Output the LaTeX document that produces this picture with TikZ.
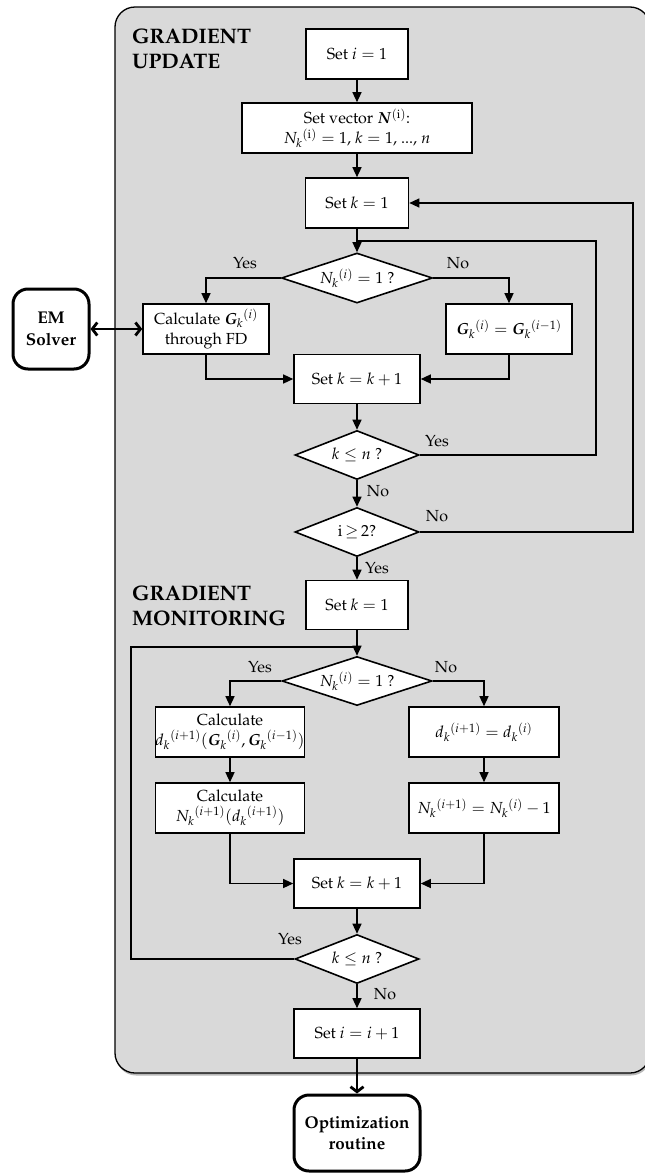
\documentclass[tikz,border=0pt]{standalone}
\usepackage[T1]{fontenc}
\usepackage{mathpazo}
\usepackage{bm}
\usetikzlibrary{shapes.geometric,arrows.meta}
\definecolor{panel}{RGB}{217,217,217}
\begin{document}
\begin{tikzpicture}[x=1pt,y=-1pt,
  font=\fontsize{16}{20}\selectfont,
  box/.style={draw, line width=1.6pt, fill=white, inner sep=0pt, align=center},
  dec/.style={diamond, aspect=3, draw, line width=1.6pt, fill=white, inner sep=0pt, align=center},
  term/.style={draw, line width=3pt, fill=white, rounded corners=15pt, inner sep=0pt, align=center, font=\fontsize{17}{21.5}\selectfont\bfseries},
  lbl/.style={inner sep=0pt},
  head/.style={inner sep=0pt, align=left, anchor=north west, font=\fontsize{21}{24.5}\selectfont\bfseries},
  conn/.style={line width=1.3pt, -{Triangle[length=10pt,width=9pt]}},
  wire/.style={line width=1.3pt},
  bigarr/.style={line width=2.8pt, -{Straight Barb[length=5pt,width=13pt]}},
  dblarr/.style={line width=2.8pt, {Straight Barb[length=5pt,width=13pt]}-{Straight Barb[length=5pt,width=13pt]}}
]
\useasboundingbox (0,0) rectangle (645,1173);
\clip (0,0) rectangle (645,1173);
% panel
\fill[black!28, rounded corners=20pt] (116,9.5) rectangle (651,1075.5);
\draw[line width=1.3pt, fill=panel, rounded corners=20pt] (115,7) rectangle (650,1073);

\node[head] (h1) at (132,28.7) {GRADIENT\\UPDATE};
\node[head] (h2) at (132,585.7) {GRADIENT\\MONITORING};

% gradient update
\node[box, minimum width=102pt, minimum height=50pt] (s1) at (357,54) {Set $i=1$};
\node[box, minimum width=230pt, minimum height=50pt] (s2) at (357,128) {Set vector $\bm{N}^{(\mathrm{i})}$:\\ $N_k{}^{(\mathrm{i})}=1$, $k=1$, ..., $n$};
\node[box, minimum width=103pt, minimum height=50pt] (s3) at (357,203) {Set $k=1$};
\node[dec, minimum width=151pt, minimum height=50pt] (d1) at (357,278) {$N_k{}^{(i)}=1$ ?};
\node[box, minimum width=126pt, minimum height=50pt] (cG) at (206,329) {Calculate $\bm{G}_k{}^{(i)}$\\ through FD};
\node[box, minimum width=126pt, minimum height=50pt] (gg) at (509,329) {$\bm{G}_k{}^{(i)}=\bm{G}_k{}^{(i-1)}$};
\node[box, minimum width=126pt, minimum height=49pt] (s4) at (357,379) {Set $k=k+1$};
\node[dec, minimum width=124pt, minimum height=49pt] (d2) at (357,455) {$k\leq n$ ?};
\node[dec, minimum width=124pt, minimum height=49pt] (d3) at (357,532) {i\,$\geq$\,2?};
\node[term, minimum width=76pt, minimum height=80pt] (em) at (51,329) {EM\\ Solver};

% gradient monitoring
\node[box, minimum width=102pt, minimum height=49pt] (s5) at (357,605) {Set $k=1$};
\node[dec, minimum width=150pt, minimum height=49pt] (d4) at (357,681) {$N_k{}^{(i)}=1$ ?};
\node[box, minimum width=149pt, minimum height=50pt] (cd) at (230,732) {Calculate\\ $d_k{}^{(i+1)}(\bm{G}_k{}^{(i)},\bm{G}_k{}^{(i-1)})$};
\node[box, minimum width=150pt, minimum height=50pt] (dd) at (484,732) {$d_k{}^{(i+1)}=d_k{}^{(i)}$};
\node[box, minimum width=149pt, minimum height=50pt] (cN) at (230,808) {Calculate\\ $N_k{}^{(i+1)}(d_k{}^{(i+1)})$};
\node[box, minimum width=150pt, minimum height=50pt] (nn) at (484,808) {$N_k{}^{(i+1)}=N_k{}^{(i)}-1$};
\node[box, minimum width=126pt, minimum height=49pt] (s6) at (357,883.5) {Set $k=k+1$};
\node[dec, minimum width=124pt, minimum height=49pt] (d5) at (357,959) {$k\leq n$ ?};
\node[box, minimum width=126pt, minimum height=49pt] (s7) at (357,1033.5) {Set $i=i+1$};
\node[term, minimum width=126pt, minimum height=76pt] (opt) at (357,1133) {Optimization\\ routine};

% labels
\node[lbl] (y1) at (245,263) {Yes};
\node[lbl] (n1) at (458,263) {No};
\node[lbl] (y2) at (437,441) {Yes};
\node[lbl] (n2) at (378,491) {No};
\node[lbl] (n3) at (437,516) {No};
\node[lbl] (y3) at (377,568) {Yes};
\node[lbl] (y4) at (260,667) {Yes};
\node[lbl] (n4) at (446,667) {No};
\node[lbl] (y5) at (290,939) {Yes};
\node[lbl] (n5) at (385,994) {No};

\coordinate (j1) at (357,241);
\coordinate (c1) at (596,241);
\coordinate (c2) at (633,203);
\coordinate (j2) at (357,647);
\coordinate (c3) at (131,647);

% connectors
\draw[conn] (s1) -- (s2);
\draw[conn] (s2) -- (s3);
\draw[conn] (s3) -- (d1);
\draw[conn] (d1.west) -| (cG.north);
\draw[conn] (d1.east) -| (gg.north);
\draw[conn] (cG.south) |- (s4.west);
\draw[conn] (gg.south) |- (s4.east);
\draw[conn] (s4) -- (d2);
\draw[wire] (d2.east) -| (c1) -- (j1);
\draw[conn] (d2) -- (d3);
\draw[conn] (d3.east) -| (c2) -- (s3.east);
\draw[conn] (d3) -- (s5);
\draw[dblarr] (em) -- (cG);

\draw[conn] (s5) -- (d4);
\draw[conn] (d4.west) -| (cd.north);
\draw[conn] (d4.east) -| (dd.north);
\draw[conn] (cd) -- (cN);
\draw[conn] (dd) -- (nn);
\draw[conn] (cN.south) |- (s6.west);
\draw[conn] (nn.south) |- (s6.east);
\draw[conn] (s6) -- (d5);
\draw[wire] (d5.west) -| (c3) -- (j2);
\draw[conn] (d5) -- (s7);
\draw[bigarr] (s7) -- (opt);
\end{tikzpicture}
\end{document}
